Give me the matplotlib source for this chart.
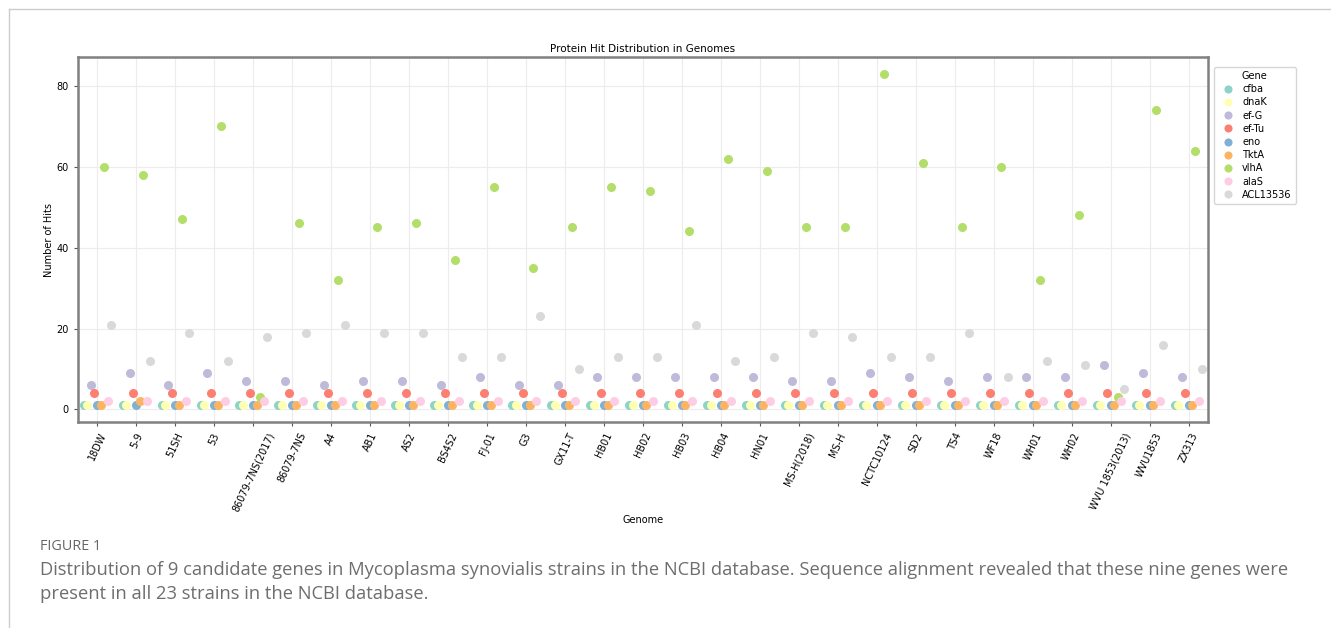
import numpy as np
import pandas as pd
import matplotlib
matplotlib.use("Agg")
import matplotlib.pyplot as plt
import seaborn as sns

genomes = ["18DW", "5-9", "51SH", "53", "86079-7NS(2017)", "86079-7NS", "A4", "AB1",
           "AS2", "BS4S2", "FJ-01", "G3", "GX11-T", "HB01", "HB02", "HB03", "HB04",
           "HN01", "MS-H(2018)", "MS-H", "NCTC10124", "SD2", "TS4", "WF18", "WH01",
           "WH02", "WVU 1853(2013)", "WVU1853", "ZX313"]
genes = ["cfba", "dnaK", "ef-G", "ef-Tu", "eno", "TktA", "vlhA", "alaS", "ACL13536"]

n = len(genomes)
cfba = [1] * n
dnaK = [1] * n
ef_G = [6, 9, 6, 9, 7, 7, 6, 7, 7, 6, 8, 6, 6, 8, 8, 8, 8, 8, 7, 7, 9, 8, 7, 8, 8, 8, 11, 9, 8]
ef_Tu = [4] * n
eno = [1] * n
TktA = [1, 2, 1, 1, 1, 1, 1, 1, 1, 1, 1, 1, 1, 1, 1, 1, 1, 1, 1, 1, 1, 1, 1, 1, 1, 1, 1, 1, 1]
vlhA = [60, 58, 47, 70, 3, 46, 32, 45, 46, 37, 55, 35, 45, 55, 54, 44, 62, 59, 45, 45,
        83, 61, 45, 60, 32, 48, 3, 74, 64]
alaS = [2] * n
ACL13536 = [21, 12, 19, 12, 18, 19, 21, 19, 19, 13, 13, 23, 10, 13, 13, 21, 12, 13, 19, 18,
            13, 13, 19, 8, 12, 11, 5, 16, 10]

hits = {"cfba": cfba, "dnaK": dnaK, "ef-G": ef_G, "ef-Tu": ef_Tu, "eno": eno,
        "TktA": TktA, "vlhA": vlhA, "alaS": alaS, "ACL13536": ACL13536}

rows = []
for g in genes:
    for genome, v in zip(genomes, hits[g]):
        rows.append({"Genome": genome, "Gene": g, "Hits": v})
df = pd.DataFrame(rows)

fig = plt.figure(figsize=(13.31, 6.28), dpi=100)
ax = fig.add_axes([0.0586, 0.328, 0.849, 0.581])

sns.stripplot(data=df, x="Genome", y="Hits", hue="Gene", order=genomes, hue_order=genes,
              palette="Set3", dodge=True, jitter=False, size=6.5, linewidth=0, ax=ax, zorder=3)

ax.grid(True, color="#ececec", linewidth=0.8, zorder=0)
ax.set_axisbelow(True)
for s in ax.spines.values():
    s.set_color("#808080")
    s.set_linewidth(1.8)
ax.tick_params(axis="both", labelsize=7, length=3, color="#555555", width=0.8)
plt.setp(ax.get_xticklabels(), rotation=65)
ax.set_xlabel("Genome", fontsize=7, labelpad=1)
ax.set_ylabel("Number of Hits", fontsize=7, labelpad=2)
ax.set_title("Protein Hit Distribution in Genomes", fontsize=7.5, pad=4)
ax.set_yticks([0, 20, 40, 60, 80])

leg = ax.legend(title="Gene", loc="upper left", bbox_to_anchor=(1.001, 0.986),
                fontsize=7, title_fontsize=7, frameon=True, handletextpad=0.5,
                borderpad=0.4, labelspacing=0.33, markerscale=0.9)
leg.get_frame().set_edgecolor("#cccccc")

# outer frame of the figure panel
fig.add_artist(plt.Line2D([9 / 1331, 1.0], [1 - 9 / 628, 1 - 9 / 628], color="#cccccc", lw=1))
fig.add_artist(plt.Line2D([9 / 1331, 9 / 1331], [0, 1 - 9 / 628], color="#cccccc", lw=1))

fig.text(40 / 1331, 1 - 546 / 628, "FIGURE 1", fontsize=10.4, color="#666666",
         family="Open Sans", va="center")
fig.text(40 / 1331, 1 - 570 / 628,
         "Distribution of 9 candidate genes in Mycoplasma synovialis strains in the NCBI database. "
         "Sequence alignment revealed that these nine genes were",
         fontsize=13.2, color="#6e6e6e", family="Open Sans", va="center")
fig.text(40 / 1331, 1 - 594 / 628, "present in all 23 strains in the NCBI database.",
         fontsize=13.2, color="#6e6e6e", family="Open Sans", va="center")

fig.savefig("out.png", dpi=100)
